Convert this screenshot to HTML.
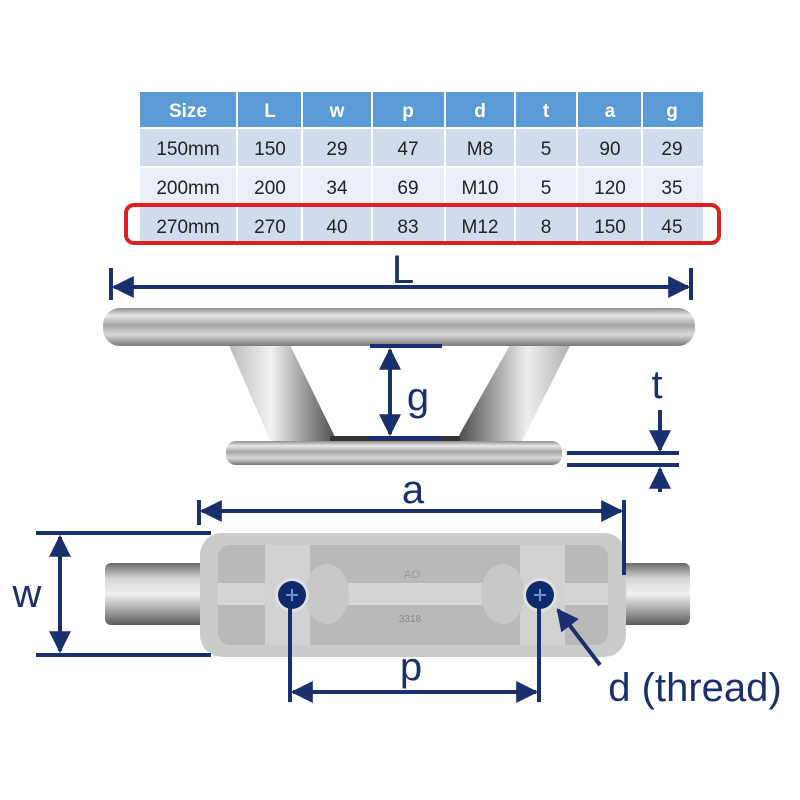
<!DOCTYPE html>
<html><head><meta charset="utf-8"><style>
html,body{margin:0;padding:0;background:#fff;width:800px;height:800px;overflow:hidden}
svg{display:block}
text{font-family:"Liberation Sans",sans-serif}
</style></head><body>
<svg width="800" height="800" viewBox="0 0 800 800" xmlns="http://www.w3.org/2000/svg">
<defs>
<linearGradient id="steel" x1="0" y1="0" x2="0" y2="1">
<stop offset="0" stop-color="#8d8d8d"/><stop offset="0.2" stop-color="#e8e8e8"/><stop offset="0.45" stop-color="#a5a5a5"/><stop offset="0.7" stop-color="#d8d8d8"/><stop offset="1" stop-color="#7a7a7a"/>
</linearGradient>
<linearGradient id="legL" x1="0" y1="0" x2="1" y2="0">
<stop offset="0" stop-color="#b5b5b5"/><stop offset="0.4" stop-color="#f2f2f2"/><stop offset="0.75" stop-color="#8a8a8a"/><stop offset="1" stop-color="#444"/>
</linearGradient>
<linearGradient id="legR" x1="0" y1="0" x2="1" y2="0">
<stop offset="0" stop-color="#444"/><stop offset="0.3" stop-color="#999"/><stop offset="0.6" stop-color="#eee"/><stop offset="1" stop-color="#aaa"/>
</linearGradient>
<linearGradient id="rod" x1="0" y1="0" x2="0" y2="1">
<stop offset="0" stop-color="#6a6a6a"/><stop offset="0.25" stop-color="#d5d5d5"/><stop offset="0.5" stop-color="#f0f0f0"/><stop offset="0.8" stop-color="#9a9a9a"/><stop offset="1" stop-color="#5a5a5a"/>
</linearGradient>
<marker id="ah" viewBox="0 0 10 10" refX="9" refY="5" markerWidth="5.5" markerHeight="5.5" orient="auto-start-reverse"><path d="M0,0 L10,5 L0,10 z" fill="#1a2f6e"/></marker>
</defs>

<rect x="140" y="92" width="563" height="36" fill="#5b9bd5"/>
<rect x="140" y="128" width="563" height="39" fill="#d0dcee"/>
<rect x="140" y="167" width="563" height="39" fill="#e9eef7"/>
<rect x="140" y="206" width="563" height="39" fill="#d0dcee"/>
<g stroke="#fff" stroke-width="2">
<line x1="237" y1="92" x2="237" y2="245"/><line x1="302" y1="92" x2="302" y2="245"/><line x1="372" y1="92" x2="372" y2="245"/><line x1="445" y1="92" x2="445" y2="245"/><line x1="515" y1="92" x2="515" y2="245"/><line x1="577" y1="92" x2="577" y2="245"/><line x1="642" y1="92" x2="642" y2="245"/>
<line x1="140" y1="128" x2="703" y2="128"/><line x1="140" y1="167" x2="703" y2="167"/><line x1="140" y1="206" x2="703" y2="206"/>
</g>
<g font-size="19" font-weight="bold" fill="#fff" text-anchor="middle">
<text x="188" y="117">Size</text><text x="270" y="117">L</text><text x="337" y="117">w</text><text x="408" y="117">p</text><text x="480" y="117">d</text><text x="546" y="117">t</text><text x="610" y="117">a</text><text x="672" y="117">g</text>
</g>
<g font-size="19" fill="#222" text-anchor="middle">
<text x="188" y="155">150mm</text><text x="270" y="155">150</text><text x="337" y="155">29</text><text x="408" y="155">47</text><text x="480" y="155">M8</text><text x="546" y="155">5</text><text x="610" y="155">90</text><text x="672" y="155">29</text>
<text x="188" y="194">200mm</text><text x="270" y="194">200</text><text x="337" y="194">34</text><text x="408" y="194">69</text><text x="480" y="194">M10</text><text x="546" y="194">5</text><text x="610" y="194">120</text><text x="672" y="194">35</text>
<text x="188" y="233">270mm</text><text x="270" y="233">270</text><text x="337" y="233">40</text><text x="408" y="233">83</text><text x="480" y="233">M12</text><text x="546" y="233">8</text><text x="610" y="233">150</text><text x="672" y="233">45</text>
</g>
<rect x="126" y="205" width="593" height="38" rx="8" fill="none" stroke="#e0201f" stroke-width="4"/>

<path d="M225,336 L295,336 L340,445 L272,445 Z" fill="url(#legL)"/>
<path d="M505,336 L575,336 L520,445 L455,445 Z" fill="url(#legR)"/>
<path d="M290,345 L510,345 L458,437 L335,437 Z" fill="#fff"/>
<rect x="330" y="436" width="130" height="8" fill="#333"/>
<rect x="226" y="441" width="336" height="24" rx="10" fill="url(#steel)"/>
<rect x="103" y="308" width="592" height="38" rx="17" fill="url(#steel)"/>

<rect x="105" y="563" width="105" height="62" rx="6" fill="url(#rod)"/>
<rect x="615" y="563" width="75" height="62" rx="6" fill="url(#rod)"/>
<rect x="200" y="533" width="426" height="124" rx="22" fill="#cbcbcb"/>
<rect x="218" y="545" width="390" height="100" rx="12" fill="#b9b9b9"/>
<rect x="218" y="583" width="390" height="22" fill="#d6d6d6"/>
<rect x="265" y="545" width="45" height="100" fill="#d2d2d2"/>
<rect x="520" y="545" width="45" height="100" fill="#d2d2d2"/>
<ellipse cx="327" cy="594" rx="22" ry="30" fill="#c8c8c8"/>
<ellipse cx="503" cy="594" rx="22" ry="30" fill="#c8c8c8"/>
<text x="412" y="578" font-size="11" fill="#999" text-anchor="middle">AO</text>
<text x="410" y="622" font-size="10" fill="#888" text-anchor="middle">3318</text>
<circle cx="292" cy="595" r="17" fill="#e0e0e0"/><circle cx="292" cy="595" r="14" fill="#0d2a6b"/>
<circle cx="540" cy="595" r="17" fill="#e0e0e0"/><circle cx="540" cy="595" r="14" fill="#0d2a6b"/>
<g stroke="#6f8fd6" stroke-width="2"><line x1="286" y1="595" x2="298" y2="595"/><line x1="292" y1="589" x2="292" y2="601"/><line x1="534" y1="595" x2="546" y2="595"/><line x1="540" y1="589" x2="540" y2="601"/></g>

<g stroke="#1a2f6e" stroke-width="4" fill="none">
<line x1="111" y1="268" x2="111" y2="300"/><line x1="691" y1="268" x2="691" y2="300"/>
<line x1="114" y1="287" x2="688" y2="287" marker-start="url(#ah)" marker-end="url(#ah)"/>
<line x1="370" y1="346" x2="442" y2="346"/><line x1="370" y1="438" x2="442" y2="438"/>
<line x1="390" y1="350" x2="390" y2="434" marker-start="url(#ah)" marker-end="url(#ah)"/>
<line x1="567" y1="453" x2="679" y2="453"/><line x1="567" y1="465" x2="679" y2="465"/>
<line x1="660" y1="410" x2="660" y2="450" marker-end="url(#ah)"/>
<line x1="660" y1="492" x2="660" y2="469" marker-end="url(#ah)"/>
<line x1="199" y1="500" x2="199" y2="525"/><line x1="624" y1="500" x2="624" y2="575"/>
<line x1="202" y1="511" x2="621" y2="511" marker-start="url(#ah)" marker-end="url(#ah)"/>
<line x1="36" y1="533" x2="211" y2="533"/><line x1="36" y1="655" x2="211" y2="655"/>
<line x1="60" y1="537" x2="60" y2="651" marker-start="url(#ah)" marker-end="url(#ah)"/>
<line x1="290" y1="608" x2="290" y2="702"/><line x1="539" y1="608" x2="539" y2="702"/>
<line x1="293" y1="692" x2="536" y2="692" marker-start="url(#ah)" marker-end="url(#ah)"/>
<line x1="600" y1="665" x2="558" y2="610" marker-end="url(#ah)"/>
</g>
<g fill="#1a2f6e" font-size="40" text-anchor="middle">
<text x="403" y="283">L</text>
<text x="418" y="410">g</text>
<text x="657" y="398">t</text>
<text x="413" y="503">a</text>
<text x="27" y="607">w</text>
<text x="411" y="680">p</text>
<text x="695" y="701">d (thread)</text>
</g>
</svg>
</body></html>
